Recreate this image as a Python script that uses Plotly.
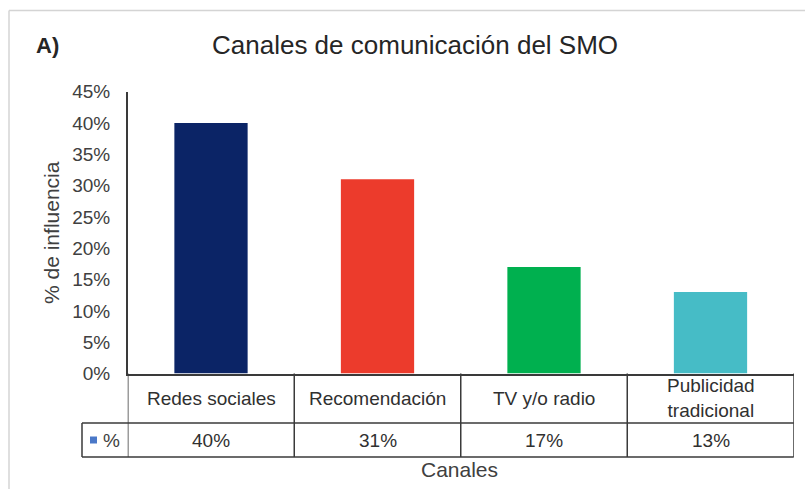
import plotly.graph_objects as go

# Data
canales = ["Redes sociales", "Recomendación", "TV y/o radio", "Publicidad<br>tradicional"]
influencia = [40, 31, 17, 13]
colores = ["#0b2466", "#ec3b2c", "#00b04f", "#46bcc6"]
serie = "%"

W, H = 805, 489
FONT = "Arial, Liberation Sans, sans-serif"


def px(x):
    return x / W


def py(y):
    return 1 - y / H


fig = go.Figure(
    go.Bar(
        x=list(range(len(canales))),
        y=influencia,
        marker=dict(color=colores, line=dict(width=0)),
        showlegend=False,
    )
)

x0, x1 = 127.75, 793.75     # plot area left/right (pixels)
y_top, y_bot = 91.7, 373.5   # plot area top/bottom (pixels)
row_mid, row_bot = 423, 457  # data table row lines

fig.update_layout(
    width=W,
    height=H,
    margin=dict(l=0, r=0, t=0, b=0),
    paper_bgcolor="white",
    plot_bgcolor="white",
    bargap=0.56,
    font=dict(family=FONT, color="#404040"),
    xaxis=dict(
        domain=[px(x0), px(x1)],
        range=[-0.5, len(canales) - 0.5],
        showticklabels=False,
        showgrid=False,
        zeroline=False,
        showline=True,
        linecolor="#3a3a3a",
        linewidth=1.5,
        automargin=False,
        fixedrange=True,
    ),
    yaxis=dict(
        domain=[py(y_bot), py(y_top)],
        range=[0, 45],
        dtick=5,
        ticksuffix="%",
        showgrid=False,
        zeroline=False,
        showline=True,
        linecolor="#3a3a3a",
        linewidth=1.5,
        ticks="",
        ticklabelstandoff=12,
        tickfont=dict(size=19, color="#404040", family=FONT),
        automargin=False,
        fixedrange=True,
    ),
)

shapes = []
line_style = dict(color="#3a3a3a", width=1.5)

# Outer chart frame (top and left edges)
shapes.append(dict(type="line", xref="paper", yref="paper", x0=px(9), x1=1, y0=py(10.5), y1=py(10.5),
                   line=dict(color="#d4d4d4", width=1.5)))
shapes.append(dict(type="line", xref="paper", yref="paper", x0=px(9), x1=px(9), y0=py(10.5), y1=0,
                   line=dict(color="#d4d4d4", width=1.5)))

# Data table grid: vertical separators at category boundaries
for k in range(len(canales) + 1):
    shapes.append(dict(type="line", xref="x", yref="paper", x0=k - 0.5, x1=k - 0.5,
                       y0=py(y_bot), y1=py(row_bot), line=line_style))
# Horizontal rows (values row extends under the legend key cell)
for yy in (row_mid, row_bot):
    shapes.append(dict(type="line", xref="paper", yref="paper", x0=px(82), x1=px(x1),
                       y0=py(yy), y1=py(yy), line=line_style))
shapes.append(dict(type="line", xref="paper", yref="paper", x0=px(82), x1=px(82),
                   y0=py(row_mid), y1=py(row_bot), line=line_style))
# Legend key square
shapes.append(dict(type="rect", xref="paper", yref="paper", x0=px(90), x1=px(97),
                   y0=py(443.5), y1=py(436.5), fillcolor="#4a78c8", line=dict(width=0)))

annotations = []
# Category names and values in the data table
for i, (c, v) in enumerate(zip(canales, influencia)):
    annotations.append(dict(x=i, xref="x", y=py((y_bot + row_mid) / 2), yref="paper", text=c,
                            showarrow=False, font=dict(size=19, color="#303030"), align="center",
                            yanchor="middle"))
    annotations.append(dict(x=i, xref="x", y=py((row_mid + row_bot) / 2), yref="paper",
                            text=f"{v}%", showarrow=False, font=dict(size=19, color="#303030"),
                            yanchor="middle"))
annotations.append(dict(x=px(101), xref="paper", y=py((row_mid + row_bot) / 2), yref="paper",
                        text=serie, showarrow=False, xanchor="left", yanchor="middle",
                        font=dict(size=19, color="#404040")))

# Titles
annotations.append(dict(x=px(415), xref="paper", y=py(45), yref="paper",
                        text="Canales de comunicación del SMO", showarrow=False,
                        font=dict(size=26, color="#262626"), yanchor="middle"))
annotations.append(dict(x=px(34), xref="paper", y=py(45), yref="paper", text="<b>A)</b>",
                        showarrow=False, xanchor="left", yanchor="middle",
                        font=dict(size=22, color="#262626")))
annotations.append(dict(x=px(51), xref="paper", y=py(233), yref="paper", text="% de influencia",
                        showarrow=False, textangle=-90, xanchor="center", yanchor="middle",
                        font=dict(size=21, color="#404040")))
annotations.append(dict(x=px(459), xref="paper", y=py(469), yref="paper", text="Canales",
                        showarrow=False, yanchor="middle", font=dict(size=21, color="#404040")))

fig.update_layout(shapes=shapes, annotations=annotations)

fig.write_html(
    "out.html",
    post_script="document.body.style.margin='0';document.body.style.overflow='hidden';",
)
